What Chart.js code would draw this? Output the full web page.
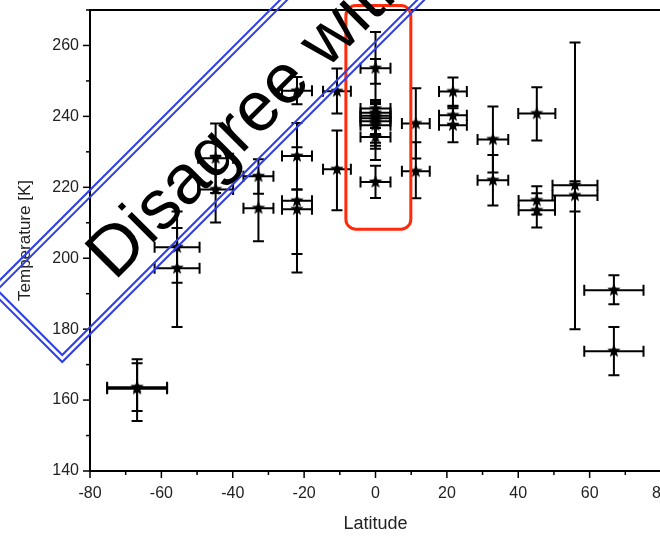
<!DOCTYPE html>
<html>
<head>
<meta charset="utf-8">
<script src="https://cdn.jsdelivr.net/npm/chart.js@4.4.1/dist/chart.umd.min.js"></script>
<style>
  html, body { margin: 0; padding: 0; background: #fff; }
  #wrap { width: 660px; height: 536px; overflow: hidden; position: relative; }
  #chart { display: block; }
</style>
</head>
<body>
<div id="wrap"><canvas id="chart" width="700" height="536"></canvas></div>
<script>
// latitude (deg) and temperature (K), with error bars
const latitude = [-66.8, -66.8, -55.6, -55.6, -44.8, -44.8, -32.8, -32.8, -22.0, -22.0, -22.0, -22.0, -10.8, -10.8,
  0, 0, 0, 0, 0, 0, 0, 0, 0, 11.3, 11.3, 21.7, 21.7, 21.7, 32.9, 32.9, 45.2, 45.2, 45.2, 55.9, 55.9, 66.8, 66.8];
const latitudeErr = [8.4, 8.4, 6.3, 6.3, 4.9, 4.9, 4.2, 4.2, 4.2, 4.2, 4.2, 4.2, 3.9, 3.9,
  4.2, 4.2, 4.2, 4.2, 4.2, 4.2, 4.2, 4.2, 4.2, 3.9, 3.9, 3.9, 3.9, 3.9, 4.3, 4.3, 5.2, 5.1, 5.1, 6.3, 6.3, 8.3, 8.3];
const temperature = [163.2, 163.6, 203.1, 197.2, 228.2, 219.4, 223.1, 214.1, 247.2, 228.8, 216.2, 213.8, 247.1, 225.1,
  253.6, 242.2, 241.0, 240.2, 239.5, 238.6, 237.5, 234.2, 221.5, 238.0, 224.5, 247.0, 240.3, 237.5, 233.5, 222.0,
  240.8, 216.3, 213.5, 220.6, 217.7, 191.0, 173.8];
const tempErrUp = [8.3, 6.8, 10.1, 11.3, 9.8, 9.5, 4.8, 9.2, 3.9, 9.3, 15.1, 5.6, 6.4, 10.9,
  10.2, 14.0, 2.5, 3.7, 4.4, 6.0, 6.5, 2.6, 4.6, 9.9, 8.2, 4.0, 2.5, 4.8, 9.3, 7.1,
  7.4, 4.0, 4.8, 40.2, 4.0, 4.2, 6.8];
const tempErrDown = [9.1, 6.7, 10.0, 16.6, 9.8, 9.3, 4.9, 9.3, 3.8, 9.4, 15.0, 17.8, 6.3, 11.6,
  4.4, 14.5, 2.5, 3.5, 4.5, 6.0, 6.6, 2.5, 4.5, 9.9, 7.6, 4.0, 2.5, 4.8, 9.3, 7.1,
  7.6, 4.0, 4.8, 7.4, 37.7, 4.0, 6.8];

const xTicks = { min: -80, max: 80, step: 10 };
const yTicks = { min: 140, max: 270, step: 10 };

const fontFamily = '"Liberation Sans", Arial, sans-serif';
const ink = '#222';

function makeStar(r) {
  const c = document.createElement('canvas');
  c.width = c.height = 2 * r + 2;
  const g = c.getContext('2d');
  g.beginPath();
  for (let k = 0; k < 10; k++) {
    const rad = k % 2 === 0 ? r : r * 0.42;
    const a = -Math.PI / 2 + k * Math.PI / 5;
    g.lineTo(r + 1 + rad * Math.cos(a), r + 1 + rad * Math.sin(a));
  }
  g.closePath();
  g.fillStyle = '#000';
  g.fill();
  return c;
}

const errorBars = {
  id: 'errorBars',
  beforeDatasetsDraw(chart) {
    const { ctx, scales: { x, y } } = chart;
    const cap = 5.5;
    ctx.save();
    ctx.strokeStyle = '#000';
    ctx.lineWidth = 2;
    latitude.forEach((lat, i) => {
      const px = x.getPixelForValue(lat);
      const py = y.getPixelForValue(temperature[i]);
      const x0 = x.getPixelForValue(lat - latitudeErr[i]);
      const x1 = x.getPixelForValue(lat + latitudeErr[i]);
      const yTop = y.getPixelForValue(temperature[i] + tempErrUp[i]);
      const yBot = y.getPixelForValue(temperature[i] - tempErrDown[i]);
      ctx.beginPath();
      ctx.moveTo(x0, py); ctx.lineTo(x1, py);
      ctx.moveTo(x0, py - cap); ctx.lineTo(x0, py + cap);
      ctx.moveTo(x1, py - cap); ctx.lineTo(x1, py + cap);
      ctx.moveTo(px, yTop); ctx.lineTo(px, yBot);
      ctx.moveTo(px - cap, yTop); ctx.lineTo(px + cap, yTop);
      ctx.moveTo(px - cap, yBot); ctx.lineTo(px + cap, yBot);
      ctx.stroke();
    });
    ctx.restore();
  }
};

// tick marks (major / minor) and the box frame
const frame = {
  id: 'frame',
  afterDraw(chart) {
    const { ctx, chartArea: a, scales: { x, y } } = chart;
    ctx.save();
    ctx.strokeStyle = '#000';
    ctx.lineWidth = 1.5;
    x.ticks.forEach(t => {
      const px = x.getPixelForValue(t.value);
      const len = t.value % 20 === 0 ? 7 : 4;
      ctx.beginPath(); ctx.moveTo(px, a.bottom); ctx.lineTo(px, a.bottom + len); ctx.stroke();
    });
    y.ticks.forEach(t => {
      const py = y.getPixelForValue(t.value);
      const len = t.value % 20 === 0 ? 7 : 4;
      ctx.beginPath(); ctx.moveTo(a.left, py); ctx.lineTo(a.left - len, py); ctx.stroke();
    });
    ctx.lineWidth = 2;
    ctx.beginPath();
    ctx.moveTo(a.left, a.top); ctx.lineTo(a.right, a.top); ctx.lineTo(a.right, a.bottom);
    ctx.stroke();
    ctx.restore();
  }
};

// overlay annotations
const overlay = {
  id: 'overlay',
  afterDraw(chart) {
    const { ctx, scales: { x, y } } = chart;
    ctx.save();
    // red box around the equator points
    const rx0 = x.getPixelForValue(-8.3), rx1 = x.getPixelForValue(9.9);
    const ry0 = y.getPixelForValue(271.3), ry1 = y.getPixelForValue(208.2);
    ctx.strokeStyle = '#ff2a0a';
    ctx.lineWidth = 3;
    ctx.beginPath();
    ctx.roundRect(rx0, ry0, rx1 - rx0, ry1 - ry0, 10);
    ctx.stroke();

    // rotated double-outlined stamp
    ctx.rotate(-Math.PI / 4);
    ctx.strokeStyle = '#2f3fe6';
    ctx.lineWidth = 2;
    ctx.strokeRect(-212, 198, 900, 102);
    ctx.strokeRect(-207, 203, 900, 92);
    ctx.fillStyle = '#000';
    ctx.font = '70px ' + fontFamily;
    ctx.textBaseline = 'alphabetic';
    ctx.fillText('Disagree with', -118, 280);
    ctx.restore();
  }
};

const starImg = makeStar(7);

new Chart(document.getElementById('chart').getContext('2d'), {
  type: 'scatter',
  data: {
    datasets: [{
      label: 'Temperature',
      data: latitude.map((lat, i) => ({ x: lat, y: temperature[i] })),
      pointStyle: starImg,
      pointRadius: 7,
      pointHoverRadius: 7
    }]
  },
  options: {
    responsive: false,
    devicePixelRatio: 1,
    animation: false,
    layout: { padding: { left: 0, right: 39, top: 10, bottom: 0 } },
    plugins: {
      legend: { display: false },
      tooltip: { enabled: false }
    },
    scales: {
      x: {
        type: 'linear',
        min: xTicks.min,
        max: xTicks.max,
        afterFit: s => { s.height = 65; s.paddingLeft = 0; s.paddingRight = 0; },
        border: { display: true, width: 2, color: '#000' },
        grid: { drawOnChartArea: false, drawTicks: false },
        ticks: {
          stepSize: xTicks.step,
          padding: 13,
          autoSkip: false,
          maxRotation: 0,
          color: ink,
          font: { family: fontFamily, size: 16 },
          callback: v => (v % 20 === 0 ? v : '')
        },
        title: {
          display: true,
          text: 'Latitude',
          color: ink,
          font: { family: fontFamily, size: 18 },
          padding: { top: 0, bottom: 1 }
        }
      },
      y: {
        type: 'linear',
        min: yTicks.min,
        max: yTicks.max,
        afterFit: s => { s.width = 90; s.paddingTop = 0; s.paddingBottom = 0; },
        border: { display: true, width: 2, color: '#000' },
        grid: { drawOnChartArea: false, drawTicks: false },
        ticks: {
          stepSize: yTicks.step,
          padding: 11,
          autoSkip: false,
          color: ink,
          font: { family: fontFamily, size: 16 },
          callback: v => (v % 20 === 0 ? v : '')
        },
        title: {
          display: true,
          text: 'Temperature [K]',
          color: ink,
          font: { family: fontFamily, size: 17 },
          padding: { top: 15, bottom: 0 }
        }
      }
    }
  },
  plugins: [errorBars, frame, overlay]
});
</script>
</body>
</html>
